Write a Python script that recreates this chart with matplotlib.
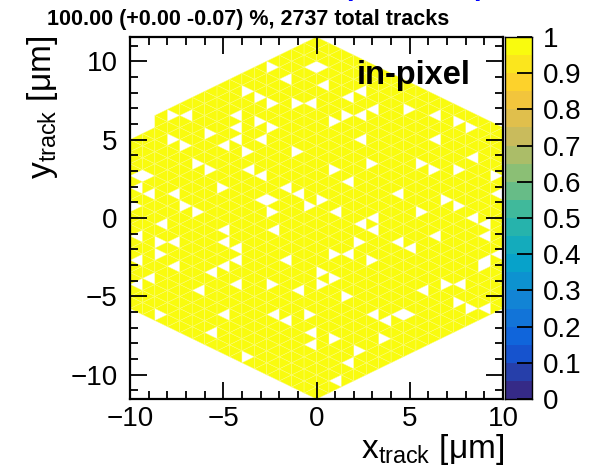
import numpy as np
import matplotlib
matplotlib.use("Agg")
import matplotlib.pyplot as plt
from matplotlib.collections import PolyCollection
from matplotlib.colors import LinearSegmentedColormap

plt.rcParams['font.family'] = ['Liberation Sans', 'DejaVu Sans']

# pixel hexagon, split in triangles (15 per side)
half_width = 10.0
n_side = 15

# triangles with no tracks (column index, y in um)
miss_col = [0, 0, 1, 1,
            3, 4, 3, 4, 5, 0, 1, 0, 1, 3, 4, 5, 0, 2, 0, 2, 3, 2, 0, 3, 1, 5, 0, 2,
            11, 9, 10, 11, 8, 8, 8, 10, 11, 6, 7, 10, 9, 6, 9, 10, 7, 10, 11, 11,
            7, 11, 7, 8, 8, 7, 6, 8, 11, 7, 11, 6, 9,
            14, 15, 15, 12, 13, 14, 17, 16, 17, 13, 16, 17, 12, 13, 15, 14, 16,
            17, 12, 16, 15, 16, 15, 13, 17, 12, 14, 14, 14, 16, 17, 16,
            18, 18, 19, 22, 18, 19, 23, 21, 23, 19, 18, 19, 21, 22, 18, 19, 23,
            19, 20, 21, 22, 20, 18,
            24, 26, 27, 24, 27, 26, 24, 29, 29, 25, 26, 27, 28, 24, 28, 29, 28,
            25, 26, 28, 26, 27, 28]
miss_y = [5.77, 5.39, 6.16, 5.77,
          6.46, 6.40, 5.08, 4.65, 3.49, 2.74, 2.64, 1.89, 1.51, 1.51, 0.94, 0.40,
          0.94, -0.23, -1.19, -1.62, -1.62, -2.36, -2.79, -2.89, -3.85, -4.49,
          -4.27, -6.14,
          9.59, 8.01, 7.63, 7.21, 6.46, 5.72, 4.87, 6.10, 5.72, 5.29, 4.55, 4.87,
          4.12, 3.17, 3.06, 2.85, 1.89, 1.15, 1.11, 0.40,
          -0.87, -0.77, -1.62, -1.94, -2.68, -3.10, -3.53, -4.27, -4.27, -6.19,
          -6.29, -7.36, -8.91,
          9.54, 9.54, 8.59, 8.80, 7.31, 7.21, 7.63, 6.14, 6.46, 4.12, 2.95, 2.32,
          1.89, 1.51, 1.11, 0.72, 0.30,
          -2.15, -2.79, -2.25, -3.53, -3.85, -4.27, -4.59, -5.02, -6.51, -6.19,
          -7.46, -8.21, -7.67, -9.38, -10.23,
          7.95, 6.61, 6.82, 6.78, 4.97, 3.49, 3.38, 1.51, 0.40, -0.02, -0.45,
          -0.77, -1.51, -1.94, -1.62, -2.68, -4.80,
          -6.19, -6.61, -6.19, -6.08, -7.67, -8.31,
          6.57, 6.19, 5.72, 4.97, 3.85, 3.27, 3.06, 2.64, 1.72, 1.11, 0.72, -0.02,
          -0.49, -1.19, -1.30, -2.25, -2.57,
          -4.27, -4.27, -3.21, -5.34, -5.76, -5.76]

title = "100.00 (+0.00 -0.07) %, 2737 total tracks"
cb_ticks = [0, 0.1, 0.2, 0.3, 0.4, 0.5, 0.6, 0.7, 0.8, 0.9, 1]

# ROOT kBird palette
bird_stops = [0.0, 0.125, 0.25, 0.375, 0.5, 0.625, 0.75, 0.875, 1.0]
bird_r = [0.2082, 0.0592, 0.0780, 0.0232, 0.1802, 0.5301, 0.8186, 0.9956, 0.9764]
bird_g = [0.1664, 0.3599, 0.5041, 0.6419, 0.7178, 0.7492, 0.7328, 0.7862, 0.9832]
bird_b = [0.5293, 0.8684, 0.8385, 0.7914, 0.6425, 0.4662, 0.3499, 0.1968, 0.0539]
bird = LinearSegmentedColormap.from_list(
    'bird', [(t, (r, g, b)) for t, r, g, b in zip(bird_stops, bird_r, bird_g, bird_b)])
n_cont = 20
band_colors = [bird(k / (n_cont - 1)) for k in range(n_cont)]

# build triangle lattice
w = half_width / n_side
s = 2 * w / np.sqrt(3)
R = n_side * s
polys, cols, ycs = [], [], []
for c in range(2 * n_side):
    m = c - n_side
    x0 = m * w
    for p in range(-2 * n_side - 1, 2 * n_side + 2):
        yc = p * s / 2
        if (p - m) % 2 == 1:
            verts = [(x0, yc - s / 2), (x0, yc + s / 2), (x0 + w, yc)]
            cx = x0 + w / 3
        else:
            verts = [(x0 + w, yc - s / 2), (x0 + w, yc + s / 2), (x0, yc)]
            cx = x0 + 2 * w / 3
        if abs(yc) <= R - abs(cx) / np.sqrt(3) + 1e-9:
            polys.append(verts)
            cols.append(c)
            ycs.append(yc)
cols = np.array(cols)
ycs = np.array(ycs)
value = np.ones(len(polys))
for c, y in zip(miss_col, miss_y):
    idx = np.where(cols == c)[0]
    value[idx[np.argmin(np.abs(ycs[idx] - y))]] = np.nan

fig = plt.figure(figsize=(6.03, 4.73), dpi=100)
ax = fig.add_axes([130 / 603, 74 / 473, 373 / 603, 362 / 473])

keep = ~np.isnan(value)
face = [band_colors[min(int(v * n_cont), n_cont - 1)] for v in value[keep]]
pc = PolyCollection([polys[i] for i in np.where(keep)[0]], facecolors=face,
                    edgecolors=(0.99, 0.99, 0.5), linewidths=0.3)
ax.add_collection(pc)
ax.set_xlim(-half_width, half_width)
ax.set_ylim(-R, R)

ax.set_xticks([-10, -5, 0, 5, 10])
ax.set_yticks([-10, -5, 0, 5, 10])
ax.set_xticks(np.arange(-10, 11, 1), minor=True)
ax.set_yticks(np.arange(-11, 12, 1), minor=True)
ax.tick_params(which='both', direction='in', top=True, right=True, width=1.3,
               labelsize=20)
ax.tick_params(which='major', length=12)
ax.tick_params(which='minor', length=6)
ax.tick_params(axis='x', pad=5)
ax.tick_params(axis='y', pad=9)
for sp in ax.spines.values():
    sp.set_linewidth(1.6)

fig.text(504 / 603, 1 - 458 / 473, 'x$_{\\mathregular{track}}$ [μm]', fontsize=24,
         ha='right', va='baseline')
fig.text(42 / 603, 1 - 36 / 473, 'y$_{\\mathregular{track}}$ [μm]', fontsize=24,
         rotation=90, ha='center', va='top')
fig.text(47 / 603, 1 - 25 / 473, title, fontsize=15.5, fontweight='bold',
         ha='left', va='baseline')
ax.text(357 / 603, 1 - 84 / 473, 'in-pixel', transform=fig.transFigure,
        fontsize=23.5, fontweight='bold', ha='left', va='baseline')
# the blue main title is cut off by the top of the canvas
fig.text(346 / 603, 1 + 5 / 473, 'p', color='blue', fontsize=20, fontweight='bold',
         ha='left', va='baseline')
fig.text(473 / 603, 1 + 5 / 473, 'p', color='blue', fontsize=20, fontweight='bold',
         ha='left', va='baseline')

# colour scale
cax = fig.add_axes([505 / 603, 74 / 473, 27 / 603, 362 / 473])
edges = np.linspace(0, 1, n_cont + 1)
for k in range(n_cont):
    cax.axhspan(edges[k], edges[k + 1], color=band_colors[k], lw=0)
cax.set_xlim(0, 1)
cax.set_ylim(0, 1)
cax.set_xticks([])
cax.yaxis.tick_right()
cax.set_yticks(cb_ticks)
cax.set_yticklabels([f'{t:g}' for t in cb_ticks])
cax.tick_params(axis='y', direction='in', length=11, width=1.3, labelsize=20, pad=8)
for sp in cax.spines.values():
    sp.set_linewidth(1.0)

fig.savefig('out.png', dpi=100)
